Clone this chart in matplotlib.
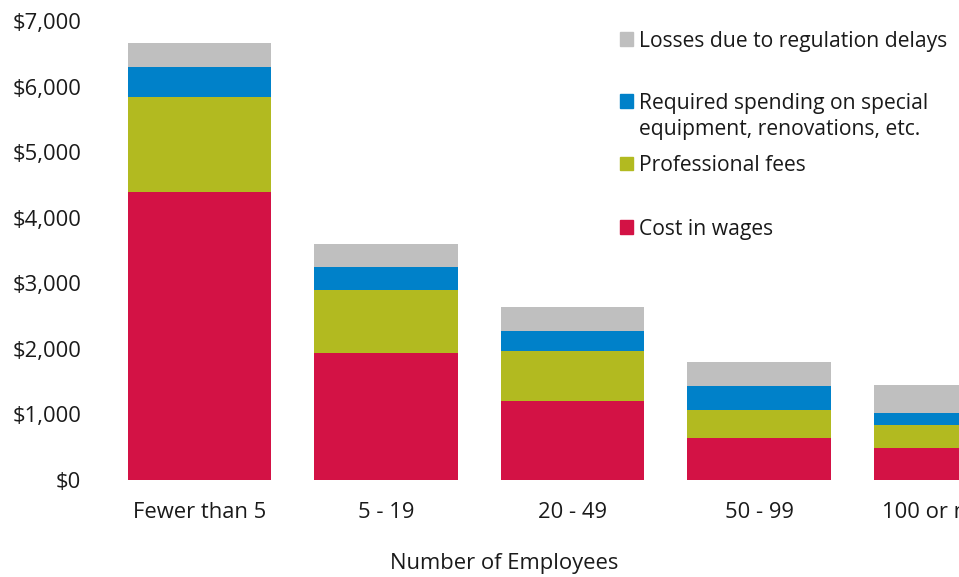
import matplotlib.pyplot as plt
from matplotlib.patches import Rectangle
from matplotlib.ticker import FuncFormatter
import numpy as np

categories = ['Fewer than 5', '5 - 19', '20 - 49', '50 - 99', '100 or more']
wages = [4390, 1940, 1205, 640, 490]
fees = [1450, 960, 760, 430, 350]
equipment = [460, 350, 305, 365, 185]
delays = [365, 350, 365, 365, 425]

series = [
    ('Cost in wages', wages, '#D31245'),
    ('Professional fees', fees, '#B2BA20'),
    ('Required spending on special\nequipment, renovations, etc.', equipment, '#0081C9'),
    ('Losses due to regulation delays', delays, '#BFBFBF'),
]

plt.rcParams['font.family'] = ['Open Sans', 'DejaVu Sans']
txt = '#1a1a1a'
fs = 15.8

W, H = 959, 577
fig = plt.figure(figsize=(W / 100, H / 100), dpi=100)
# axes extends past the right edge of the figure (reference is cropped)
ax = fig.add_axes([106.25 / W, (H - 480) / H, 932.5 / W, 459 / H])

x = np.arange(len(categories))
bottom = np.zeros(len(categories))
for name, vals, col in series:
    ax.bar(x, vals, width=0.767, bottom=bottom, color=col, edgecolor='none')
    bottom += np.array(vals)

ax.set_xlim(-0.5, 4.5)
ax.set_ylim(0, 7000)
ax.set_yticks(range(0, 7001, 1000))
ax.yaxis.set_major_formatter(FuncFormatter(lambda v, p: '${:,.0f}'.format(v)))
ax.set_xticks(x)
ax.set_xticklabels(categories)
ax.tick_params(axis='y', length=0, pad=18, labelsize=fs, labelcolor=txt)
ax.tick_params(axis='x', length=0, pad=16, labelsize=fs, labelcolor=txt)
for s in ax.spines.values():
    s.set_visible(False)

fig.text(504.5 / W, 1 - 564 / H, 'Number of Employees', ha='center', va='center',
         fontsize=fs, color=txt)

# legend, drawn by hand
leg = [
    ('Losses due to regulation delays', '#BFBFBF', 39),
    ('Required spending on special\nequipment, renovations, etc.', '#0081C9', 101),
    ('Professional fees', '#B2BA20', 164),
    ('Cost in wages', '#D31245', 227),
]
for label, col, yc in leg:
    fig.patches.append(Rectangle((620 / W, 1 - (yc + 6.5) / H), 13 / W, 13 / H,
                                 transform=fig.transFigure, color=col))
    fig.text(639 / W, 1 - (yc - 8.5) / H, label, ha='left', va='top',
             fontsize=15.2, color=txt, linespacing=1.34)

fig.savefig('out.png', dpi=100)
